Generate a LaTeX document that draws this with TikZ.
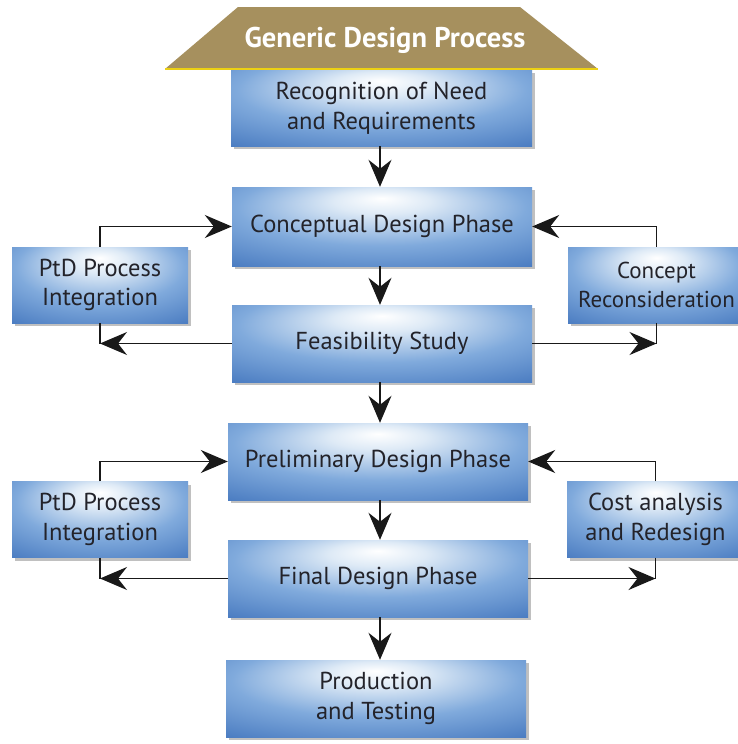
\documentclass[tikz,border=0pt]{standalone}
\usepackage{fontspec}
\setmainfont{PT Sans}
\usetikzlibrary{arrows.meta,shadows}
\definecolor{txt}{RGB}{35,35,42}
\definecolor{bA}{RGB}{222,234,246}
\definecolor{bB}{RGB}{128,170,220}
\definecolor{bC}{RGB}{72,122,192}
\definecolor{bD}{RGB}{42,82,150}
\definecolor{khaki}{RGB}{166,144,94}
\definecolor{gold}{RGB}{236,208,20}
\pgfdeclareradialshading{boxshade}{\pgfpoint{0bp}{18bp}}{color(0bp)=(white); color(8bp)=(bA); color(24bp)=(bB); color(42bp)=(bC); color(70bp)=(bD)}
\tikzset{
  box/.style={rectangle, shading=boxshade, text=txt, align=center, inner sep=0pt,
    font=\fontsize{24.5}{29.5}\selectfont,
    drop shadow={shadow xshift=3pt, shadow yshift=-3pt, opacity=0.35, fill=black!70}},
  conn/.style={line width=1.2pt, draw=black!90},
  arr/.style={conn, -{Stealth[length=27pt,width=23pt,inset=9pt]}}
}
\begin{document}
\begin{tikzpicture}[x=1pt,y=-1pt]
\clip (0,0) rectangle (738,744);
\fill[white] (0,0) rectangle (738,744);
% title banner
\fill[khaki] (238,7) -- (520,7) -- (598,69) -- (165,69) -- cycle;
\draw[gold, line width=2pt] (165,69) -- (598,69);
\node[text=white, font=\fontsize{28.5}{32}\bfseries\selectfont] (title) at (385,40) {Generic Design Process};
% main boxes
\node[box, minimum width=301pt, minimum height=76pt] (r) at (381.5,108) {Recognition of Need\\and Requirements};
\node[box, minimum width=300pt, minimum height=79pt] (c) at (382,226.5) {Conceptual Design Phase};
\node[box, minimum width=300pt, minimum height=77pt] (f) at (382,343.5) {Feasibility Study};
\node[box, minimum width=300pt, minimum height=77pt] (pr) at (378,461.5) {Preliminary Design Phase};
\node[box, minimum width=300pt, minimum height=77pt] (fi) at (378,578.5) {Final Design Phase};
\node[box, minimum width=300pt, minimum height=77pt] (pt) at (376,698.5) {Production\\and Testing};
% side boxes
\node[box, minimum width=176pt, minimum height=76pt] (p1) at (100,285) {PtD Process\\Integration};
\node[box, minimum width=177pt, minimum height=76pt, font=\fontsize{23}{29.5}\selectfont] (cr) at (656.5,285) {Concept\\Reconsideration};
\node[box, minimum width=176pt, minimum height=76pt] (p2) at (100,519.5) {PtD Process\\Integration};
\node[box, minimum width=177pt, minimum height=76pt] (ca) at (655.5,519.5) {Cost analysis\\and Redesign};
% vertical arrows
\coordinate (ax) at (380,0);
\draw[arr] (r.south -| ax) -- (c.north -| ax);
\draw[arr] (c.south -| ax) -- (f.north -| ax);
\draw[arr] (f.south -| ax) -- (pr.north -| ax);
\draw[arr] (pr.south -| ax) -- (fi.north -| ax);
\draw[arr] (fi.south -| ax) -- (pt.north -| ax);
% side loops upper
\draw[arr] (p1.north) |- (c.west);
\coordinate (k1) at (p1.south |- f.west);
\draw[conn] (p1.south) -- (k1);
\draw[arr] (f.west) -- (k1);
\draw[arr] (cr.north) |- (c.east);
\coordinate (k2) at (cr.south |- f.east);
\draw[conn] (cr.south) -- (k2);
\draw[arr] (f.east) -- (k2);
% side loops lower
\draw[arr] (p2.north) |- (pr.west);
\coordinate (k3) at (p2.south |- fi.west);
\draw[conn] (p2.south) -- (k3);
\draw[arr] (fi.west) -- (k3);
\draw[arr] (ca.north) |- (pr.east);
\coordinate (k4) at (ca.south |- fi.east);
\draw[conn] (ca.south) -- (k4);
\draw[arr] (fi.east) -- (k4);
\end{tikzpicture}
\end{document}
